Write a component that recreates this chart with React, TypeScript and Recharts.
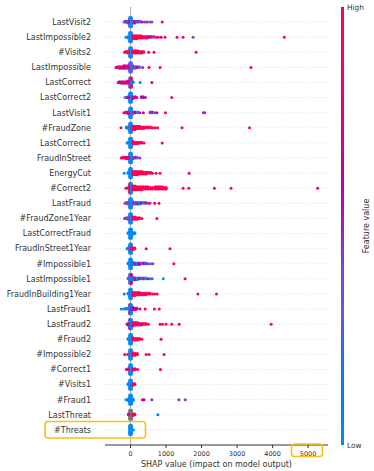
import { ScatterChart, Scatter, XAxis, YAxis, ReferenceLine } from 'recharts';

// [shap value, feature value 0..1 (null = missing), how many samples sit there]
type Pt = [number, number | null, number];

const features = [
  'LastVisit2', 'LastImpossible2', '#Visits2', 'LastImpossible', 'LastCorrect', 'LastCorrect2',
  'LastVisit1', '#FraudZone', 'LastCorrect1', 'FraudInStreet', 'EnergyCut', '#Correct2',
  'LastFraud', '#FraudZone1Year', 'LastCorrectFraud', 'FraudInStreet1Year', '#Impossible1',
  'LastImpossible1', 'FraudInBuilding1Year', 'LastFraud1', 'LastFraud2', '#Fraud2',
  '#Impossible2', '#Correct1', '#Visits1', '#Fraud1', 'LastThreat', '#Threats',
];

const xTicks = [0, 1000, 2000, 3000, 4000, 5000];

const lastVisit2: Pt[] = [
  [-20, 0, 13], [20, 0, 13],
  [-70, 0.6, 3], [-110, 0.1, 2], [-150, 0.7, 2], [-185, 0.3, 1],
  [70, 0.3, 3], [120, 0.6, 3], [170, 0.2, 2], [220, 0.5, 2], [270, 0.3, 2], [330, 0.7, 1],
  [400, 0.4, 1], [470, 0.5, 1], [540, 0.3, 1], [600, 0.4, 1], [890, 1, 1],
];
const lastImpossible2: Pt[] = [
  [-20, 0, 13], [20, 0, 13], [-70, 0, 3], [-130, 0, 1],
  [70, 1, 5], [120, 1, 5], [170, 1, 5], [230, 1, 4], [290, 1, 4], [350, 1, 3], [410, 1, 3],
  [470, 0.8, 3], [530, 0.6, 2], [590, 0.9, 2], [650, 0.4, 2], [720, 1, 1], [780, 0.8, 1],
  [860, 0.7, 1], [970, 1, 1], [1310, 0.7, 1], [1480, 0.8, 1], [1760, 0.4, 1], [4330, 1, 1],
];
const visits2: Pt[] = [
  [-20, 0, 13], [20, 0, 13],
  [-70, 1, 3], [-120, 1, 2], [-170, 1, 1],
  [70, 1, 4], [130, 1, 4], [190, 1, 4], [250, 1, 3], [310, 1, 3], [370, 1, 2],
  [510, 1, 1], [660, 1, 1], [1845, 1, 1],
];
const lastImpossible: Pt[] = [
  [-20, 0, 13], [20, 0.3, 13],
  [-70, 0.7, 4], [-130, 0.9, 4], [-190, 0.6, 4], [-250, 0.8, 3], [-310, 0.7, 3], [-360, 0.9, 2], [-410, 0.6, 1],
  [70, 0.2, 4], [130, 0.4, 3], [190, 0.6, 2], [250, 0.3, 2], [340, 0.5, 1],
  [520, 1, 1], [830, 1, 1], [3390, 1, 1],
];
const lastCorrect: Pt[] = [
  [-20, 1, 6], [-20, 0, 7], [20, 0, 7], [20, 1, 6],
  [-70, 0.7, 4], [-130, 0.7, 3], [-190, 0.8, 3], [-250, 0.7, 3], [-310, 0.6, 2], [-350, 0.7, 1],
  [70, 0.1, 2], [270, 0, 1], [600, 0.7, 1],
];
const lastCorrect2: Pt[] = [
  [-20, 0, 13], [20, 0, 13],
  [-70, 0.7, 2], [-110, 0.6, 1], [-155, 0, 1],
  [70, 0.7, 3], [130, 0.6, 2], [180, 0.7, 1], [300, 0.5, 2], [360, 0.6, 2], [420, 0.5, 1],
  [1160, 0.8, 1],
];
const lastVisit1: Pt[] = [
  [-20, 0, 13], [20, 0, 13],
  [-70, 0.8, 3], [-130, 0.7, 2], [-190, 0.9, 1],
  [70, 0.4, 3], [130, 0.6, 2], [200, 0.3, 2], [260, 0.5, 1], [360, 0.7, 1],
  [550, 0.4, 2], [610, 0.5, 2], [680, 0.3, 1], [740, 0.6, 1], [980, 1, 1],
  [2050, 0.45, 1], [2090, 0.45, 1],
];
const fraudZone: Pt[] = [
  [-20, 0, 13], [20, 0, 13],
  [-70, 0.3, 3], [-120, 0, 2], [-270, 1, 1],
  [70, 1, 5], [130, 1, 5], [190, 1, 4], [250, 1, 4], [310, 1, 3], [370, 1, 3], [430, 1, 2],
  [490, 1, 2], [560, 1, 2], [620, 1, 1], [690, 1, 1], [760, 1, 1],
  [1450, 1, 1], [3350, 1, 1],
];
const lastCorrect1: Pt[] = [
  [-20, 0, 13], [20, 0, 13], [-70, 0, 2], [-100, 0, 1],
  [70, 1, 4], [130, 0.8, 3], [190, 1, 3], [250, 0.9, 2], [310, 1, 2], [380, 0.9, 1],
  [890, 0.7, 1],
];
const fraudInStreet: Pt[] = [
  [-20, 0, 13], [20, 0, 13],
  [-70, 1, 3], [-120, 0.8, 3], [-170, 1, 2], [-220, 0.9, 2], [-260, 1, 1],
  [70, 0.4, 3], [130, 0.5, 2], [190, 0.3, 2], [260, 0.4, 1],
];
const energyCut: Pt[] = [
  [-20, 0, 13], [20, 0, 13], [-70, 0, 2], [-180, 0, 1],
  [70, 1, 5], [130, 1, 5], [190, 1, 5], [250, 1, 4], [310, 1, 4], [370, 1, 3], [430, 1, 3],
  [490, 1, 2], [560, 1, 2], [620, 1, 1], [720, 1, 1], [830, 1, 1], [1650, 1, 1],
];
const correct2: Pt[] = [
  [-20, 1, 13], [20, 0, 13], [-70, 1, 2], [-130, 1, 1],
  [70, 1, 6], [130, 1, 6], [190, 1, 5], [250, 1, 5], [310, 1, 5], [370, 1, 4], [430, 1, 4],
  [490, 1, 4], [560, 1, 3], [620, 1, 3],
  [700, 1, 4], [760, 1, 4], [820, 1, 4], [880, 1, 4], [940, 1, 3], [1000, 1, 3],
  [1480, 1, 1], [1640, 1, 1], [2360, 1, 1], [2830, 1, 1], [5270, 1, 1],
];
const lastFraud: Pt[] = [
  [-20, 0, 13], [20, 0, 13],
  [-70, 0.4, 3], [-120, 0.45, 2], [-160, 0.4, 1],
  [70, 0.4, 4], [130, 0.2, 3], [190, 0.5, 3], [250, 0.1, 3], [310, 0.6, 2], [370, 0, 2],
  [430, 0.5, 2], [500, 0.9, 1], [550, 0.4, 1], [680, 1, 1], [800, 1, 1],
];
const fraudZone1Year: Pt[] = [
  [-20, 0, 13], [20, 0, 13],
  [-70, 0.4, 3], [-120, 0.4, 2], [-170, 0.45, 1],
  [70, 1, 4], [130, 1, 4], [190, 1, 3], [250, 1, 2], [320, 1, 1], [740, 1, 1],
];
const lastCorrectFraud: Pt[] = [
  [-20, 0, 13], [20, 0, 13], [-70, 0, 2],
  [70, 0, 3], [120, 0, 2],
];
const fraudInStreet1Year: Pt[] = [
  [-20, 0.7, 6], [-20, 0, 7], [20, 0.8, 6], [20, 0, 7],
  [-70, 0.3, 2], [-100, 0, 1],
  [70, 1, 3], [120, 1, 2], [440, 1, 1], [1110, 1, 1],
];
const impossible1: Pt[] = [
  [-20, 0, 13], [20, 0, 13], [-70, 0, 2],
  [70, 0.2, 4], [130, 0.5, 3], [190, 0.1, 3], [250, 0.6, 3], [310, 0.3, 2], [370, 0.7, 2],
  [430, 0.2, 2], [500, 0.5, 1], [570, 0.3, 1], [630, 0.4, 1], [1220, 1, 1],
];
const lastImpossible1: Pt[] = [
  [-20, 0.7, 6], [-20, 0, 7], [20, 0, 7], [20, 0.7, 6], [-70, 0, 2],
  [70, 0.1, 4], [130, 0.7, 3], [190, 0, 3], [250, 0.6, 2], [310, 0.1, 2], [370, 0.5, 2],
  [430, 0, 2], [500, 0.6, 1], [570, 0.1, 1], [610, 0, 1], [920, 0, 1], [1535, 1, 1],
];
const fraudInBuilding1Year: Pt[] = [
  [-20, 0, 13], [20, 0, 13], [-70, 0, 2], [-180, 0, 1],
  [70, 1, 5], [130, 1, 5], [190, 1, 4], [250, 1, 4], [310, 0.8, 3], [370, 1, 3], [430, 1, 3],
  [490, 0.9, 2], [550, 1, 2], [620, 1, 1], [680, 1, 1], [750, 1, 1],
  [1895, 1, 1], [2420, 1, 1],
];
const lastFraud1: Pt[] = [
  [-20, 0, 8], [-20, 0.7, 5], [20, 0.6, 5], [20, 0, 8],
  [-70, 0, 2], [-130, 0, 2], [-190, 0, 1], [-260, 0, 1],
  [70, 0.6, 4], [130, 0.7, 3], [180, 0.6, 2],
  [270, 1, 1], [410, 1, 1], [670, 1, 1], [810, 1, 1],
];
const lastFraud2: Pt[] = [
  [-20, 0, 10], [-20, 0.7, 3], [20, 0, 13],
  [-70, 0.7, 3], [-100, 0.6, 1],
  [70, 0.8, 5], [130, 1, 4], [190, 0.9, 4], [250, 1, 3], [310, 0.8, 3], [370, 1, 2],
  [430, 0.9, 2], [500, 1, 1],
  [830, 1, 1], [900, 1, 1], [1000, 1, 1], [1160, 1, 1], [1370, 1, 1], [3960, 1, 1],
];
const fraud2: Pt[] = [
  [-20, 0, 13], [20, 0, 13], [-70, 0, 2],
  [70, 1, 4], [130, 1, 3], [190, 1, 3], [250, 1, 2], [320, 1, 1], [860, 1, 1],
];
const impossible2: Pt[] = [
  [-20, 0, 13], [20, 0, 13],
  [-80, 1, 1], [-165, 1, 1],
  [70, 1, 4], [130, 1, 3], [190, 1, 2], [440, 1, 1], [520, 1, 1], [945, 1, 1],
];
const correct1: Pt[] = [
  [-20, 0, 13], [20, 0, 13],
  [-70, 1, 2], [-120, 0.7, 1],
  [70, 1, 3], [130, 0.8, 2], [200, 1, 1], [840, 1, 1],
];
const visits1: Pt[] = [
  [-20, 0, 13], [20, 0, 13], [-70, 0, 2],
  [70, 1, 3], [120, 1, 2],
];
const fraud1: Pt[] = [
  [-20, 0, 13], [20, 0, 13],
  [-70, 0, 3], [-130, 0, 1], [70, 0, 3],
  [330, 0.7, 1], [380, 0.6, 1], [600, 0.45, 1], [1360, 0.45, 1], [1540, 0.4, 1],
];
const lastThreat: Pt[] = [
  [-20, null, 13], [20, null, 13],
  [-60, 0.8, 2], [70, 1, 3], [120, 1, 2], [770, 0, 1],
];
const threats: Pt[] = [
  [-20, 0, 13], [20, 0, 13], [80, 0, 1],
];

const rows = [
  lastVisit2, lastImpossible2, visits2, lastImpossible, lastCorrect, lastCorrect2,
  lastVisit1, fraudZone, lastCorrect1, fraudInStreet, energyCut, correct2,
  lastFraud, fraudZone1Year, lastCorrectFraud, fraudInStreet1Year, impossible1,
  lastImpossible1, fraudInBuilding1Year, lastFraud1, lastFraud2, fraud2,
  impossible2, correct1, visits1, fraud1, lastThreat, threats,
];

// shap's red_blue map: straight line through LCH from blue to red, L dipping to 40 halfway
function redBlue(t: number) {
  const L = t < 0.5 ? 54 + (40 - 54) * (t / 0.5) : 40 + (54 - 40) * ((t - 0.5) / 0.5);
  const C = 70 + (90 - 70) * t;
  const H = 4.6588 + (0.35470565 + 2 * Math.PI - 4.6588) * t;
  const a = C * Math.cos(H);
  const b = C * Math.sin(H);
  const fy = (L + 16) / 116;
  const fx = fy + a / 500;
  const fz = fy - b / 200;
  const inv = (u: number) => (u > 6 / 29 ? u * u * u : 3 * (6 / 29) ** 2 * (u - 4 / 29));
  const X = 0.95047 * inv(fx);
  const Y = inv(fy);
  const Z = 1.08883 * inv(fz);
  const lin = [
    3.2406 * X - 1.5372 * Y - 0.4986 * Z,
    -0.9689 * X + 1.8758 * Y + 0.0415 * Z,
    0.0557 * X - 0.204 * Y + 1.057 * Z,
  ];
  const rgb = lin.map((v) => {
    const c = v <= 0.0031308 ? 12.92 * v : 1.055 * Math.pow(v, 1 / 2.4) - 0.055;
    return Math.round(Math.min(1, Math.max(0, c)) * 255);
  });
  return `rgb(${rgb[0]},${rgb[1]},${rgb[2]})`;
}

// beeswarm like shap does it: bin the values, stack each bin up/down, squash to 0.36 of a row
const BIN = 40;
const points: { x: number; y: number; color: string }[] = [];
rows.forEach((row, i) => {
  const pos = features.length - 1 - i;
  const flat: { v: number; f: number | null }[] = [];
  row.forEach(([v, f, n]) => {
    for (let k = 0; k < n; k++) flat.push({ v, f });
  });
  const layers = new Map<number, number>();
  const ys = flat.map((p) => {
    const bin = Math.floor(p.v / BIN);
    const layer = layers.get(bin) ?? 0;
    layers.set(bin, layer + 1);
    return Math.ceil(layer / 2) * ((layer % 2) * 2 - 1);
  });
  const top = Math.max(...ys.map((y) => y + 1));
  flat.forEach((p, k) => {
    points.push({
      x: p.v,
      y: pos + ys[k] * (0.9 * 0.4 / top),
      color: p.f === null ? '#777777' : redBlue(p.f),
    });
  });
});

const rowTicks = features.map((_, i) => i);
const gradStops = Array.from({ length: 11 }, (_, k) => k / 10);

const Dot = (props: any) => {
  const color = props.payload?.color ?? props.color;
  return <circle cx={props.cx} cy={props.cy} r={1.5} fill={color} />;
};

export default function App() {
  return (
    <div
      style={{
        position: 'absolute', left: 0, top: 0, width: 374, height: 471,
        background: '#fff', fontFamily: "'DejaVu Sans', sans-serif",
      }}
    >
      <ScatterChart width={374} height={471} margin={{ top: 7, right: 46, bottom: 0, left: 0 }}>
        <XAxis
          type="number"
          dataKey="x"
          domain={[-720, 5560]}
          allowDataOverflow
          ticks={xTicks}
          height={26}
          stroke="#333"
          tickSize={3}
          tickMargin={3}
          tick={{ fontSize: 6.5, fill: '#333' }}
          label={{
            value: 'SHAP value (impact on model output)',
            position: 'insideBottom',
            offset: 4.5,
            fontSize: 8,
            fill: '#333',
          }}
        />
        <YAxis
          type="number"
          dataKey="y"
          domain={[-1, features.length]}
          allowDataOverflow
          ticks={rowTicks}
          interval={0}
          width={105}
          axisLine={false}
          tickLine={false}
          tickSize={0}
          tickMargin={14}
          tick={{ fontSize: 8, fill: '#333' }}
          tickFormatter={(v: number) => features[features.length - 1 - v]}
        />
        {rowTicks.map((r) => (
          <ReferenceLine key={r} y={r} stroke="#c4c4c4" strokeWidth={0.7} strokeDasharray="0.8 2.2" />
        ))}
        <ReferenceLine x={0} stroke="#999" strokeWidth={0.8} />
        <Scatter data={points} isAnimationActive={false} shape={Dot} />
      </ScatterChart>

      <svg width={374} height={471} style={{ position: 'absolute', left: 0, top: 0, pointerEvents: 'none' }}>
        <defs>
          <linearGradient id="fv" x1="0" y1="1" x2="0" y2="0">
            {gradStops.map((t) => (
              <stop key={t} offset={t} stopColor={redBlue(t)} />
            ))}
          </linearGradient>
        </defs>
        <rect x={341} y={7} width={3} height={438} fill="url(#fv)" />
        <text x={347} y={7} fontSize={7.4} fill="#333" dominantBaseline="central">High</text>
        <text x={347} y={445} fontSize={7.4} fill="#333" dominantBaseline="central">Low</text>
        <text
          x={366.5}
          y={226}
          fontSize={8}
          fill="#333"
          textAnchor="middle"
          dominantBaseline="central"
          transform="rotate(-90 366.5 226)"
        >
          Feature value
        </text>
        {/* highlight boxes */}
        <rect x={45} y={421.5} width={100.5} height={16.5} rx={3} fill="none" stroke="#f5c211" strokeWidth={1.6} />
        <rect x={291.5} y={444} width={31} height={12.5} rx={3} fill="none" stroke="#f5c211" strokeWidth={1.6} />
      </svg>
    </div>
  );
}
